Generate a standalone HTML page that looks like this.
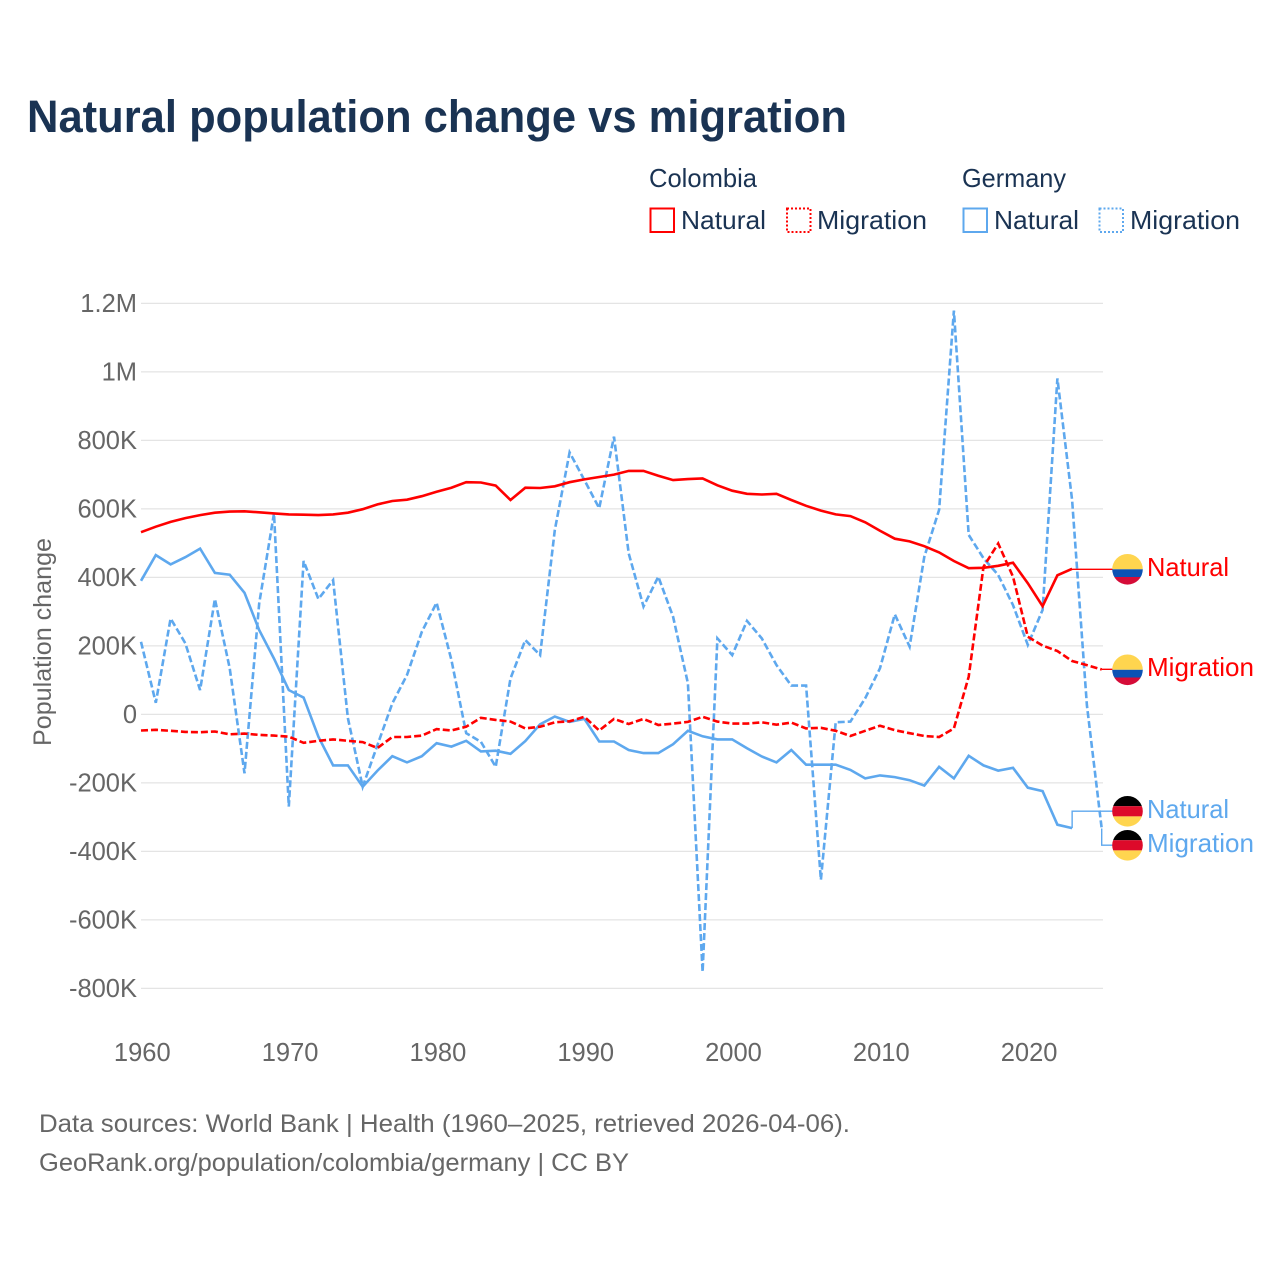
<!DOCTYPE html>
<html lang="en">
<head>
<meta charset="utf-8">
<title>Natural population change vs migration</title>
<style>
  html, body { margin: 0; padding: 0; background: #fff; }
  svg { display: block; font-family: "Liberation Sans", sans-serif; }
</style>
</head>
<body>
<svg id="chart" xmlns="http://www.w3.org/2000/svg" width="1280" height="1280" viewBox="0 0 1280 1280">
  <rect x="0" y="0" width="1280" height="1280" fill="#fff"/>
  <text x="27" y="132" font-size="45" font-weight="700" fill="#1a3353" textLength="820" lengthAdjust="spacingAndGlyphs">Natural population change vs migration</text>

  <g font-size="26" fill="#1a3353">
    <text x="649" y="187" textLength="108" lengthAdjust="spacingAndGlyphs">Colombia</text>
    <rect x="650.5" y="208.5" width="23.5" height="23.5" fill="none" stroke="#ff0000" stroke-width="2"/>
    <text x="681" y="229" textLength="85" lengthAdjust="spacingAndGlyphs">Natural</text>
    <rect x="787" y="208.5" width="23.5" height="23.5" fill="none" stroke="#ff0000" stroke-width="2" stroke-dasharray="2,2"/>
    <text x="817" y="229" textLength="110" lengthAdjust="spacingAndGlyphs">Migration</text>
    <text x="962" y="187" textLength="104" lengthAdjust="spacingAndGlyphs">Germany</text>
    <rect x="963.5" y="208.5" width="23.5" height="23.5" fill="none" stroke="#5ea8ee" stroke-width="2"/>
    <text x="994" y="229" textLength="85" lengthAdjust="spacingAndGlyphs">Natural</text>
    <rect x="1099.5" y="208.5" width="23.5" height="23.5" fill="none" stroke="#5ea8ee" stroke-width="2" stroke-dasharray="2,2"/>
    <text x="1130" y="229" textLength="110" lengthAdjust="spacingAndGlyphs">Migration</text>
  </g>

  <g id="grid"></g>
  <g id="yticks" font-size="25.5" fill="#666666" text-anchor="end"></g>
  <g id="xticks" font-size="25.5" fill="#666666" text-anchor="middle"></g>
  <text transform="translate(51 642) rotate(-90)" font-size="25" fill="#666666" text-anchor="middle" textLength="208" lengthAdjust="spacingAndGlyphs">Population change</text>

  <g id="series"></g>

  <g>
    <g>
      <clipPath id="clip-a"><circle cx="1127.5" cy="569.3" r="15.3"/></clipPath>
      <g clip-path="url(#clip-a)">
        <rect x="1112" y="554" width="31" height="15.3" fill="#ffd54f"/>
        <rect x="1112" y="569.3" width="31" height="7.7" fill="#0c52b4"/>
        <rect x="1112" y="577" width="31" height="8" fill="#d50c38"/>
      </g>
    </g>
    <text x="1147" y="576" font-size="26" fill="#ff0000" textLength="82" lengthAdjust="spacingAndGlyphs">Natural</text>
    <g>
      <clipPath id="clip-b"><circle cx="1127.5" cy="669.8" r="15.3"/></clipPath>
      <g clip-path="url(#clip-b)">
        <rect x="1112" y="654" width="31" height="15.8" fill="#ffd54f"/>
        <rect x="1112" y="669.8" width="31" height="7.7" fill="#0c52b4"/>
        <rect x="1112" y="677.5" width="31" height="8" fill="#d50c38"/>
      </g>
    </g>
    <text x="1147" y="676" font-size="26" fill="#ff0000" textLength="107" lengthAdjust="spacingAndGlyphs">Migration</text>
    <g>
      <clipPath id="clip-c"><circle cx="1127.5" cy="811.3" r="15.3"/></clipPath>
      <g clip-path="url(#clip-c)">
        <rect x="1112" y="796" width="31" height="10.2" fill="#000000"/>
        <rect x="1112" y="806.2" width="31" height="10.2" fill="#dd0a2a"/>
        <rect x="1112" y="816.4" width="31" height="10.4" fill="#ffd54f"/>
      </g>
    </g>
    <text x="1147" y="818" font-size="26" fill="#5ea8ee" textLength="82" lengthAdjust="spacingAndGlyphs">Natural</text>
    <g>
      <clipPath id="clip-d"><circle cx="1127.5" cy="845.3" r="15.3"/></clipPath>
      <g clip-path="url(#clip-d)">
        <rect x="1112" y="830" width="31" height="10.2" fill="#000000"/>
        <rect x="1112" y="840.2" width="31" height="10.2" fill="#dd0a2a"/>
        <rect x="1112" y="850.4" width="31" height="10.4" fill="#ffd54f"/>
      </g>
    </g>
    <text x="1147" y="852" font-size="26" fill="#5ea8ee" textLength="107" lengthAdjust="spacingAndGlyphs">Migration</text>
  </g>

  <g font-size="25" fill="#666666">
    <text x="39" y="1132" textLength="811" lengthAdjust="spacingAndGlyphs">Data sources: World Bank | Health (1960–2025, retrieved 2026-04-06).</text>
    <text x="39" y="1171" textLength="590" lengthAdjust="spacingAndGlyphs">GeoRank.org/population/colombia/germany | CC BY</text>
  </g>
</svg>

<script>
// Years and axis ticks
const startYear = 1960;
const xTickYears = [1960, 1970, 1980, 1990, 2000, 2010, 2020];
const yTickValues = [1200, 1000, 800, 600, 400, 200, 0, -200, -400, -600, -800];
const yTickLabels = ["1.2M", "1M", "800K", "600K", "400K", "200K", "0", "-200K", "-400K", "-600K", "-800K"];

// Series values in thousands, one per year starting 1960
const colombiaNatural = [
  532, 548, 562, 573, 582, 589, 592, 593, 590, 587,
  584, 583, 582, 584, 589, 599, 613, 623, 627, 637,
  650, 662, 678, 677, 668, 626, 662, 661, 666, 678,
  686, 693, 700, 711, 711, 697, 684, 687, 689, 669,
  653, 644, 642, 644, 626, 609, 595, 584, 579, 561,
  536, 513, 505, 491, 473, 448, 427, 428, 434, 443,
  383, 316, 406, 425
];
const colombiaMigration = [
  -47, -45, -48, -51, -52, -50, -58, -56, -60, -62,
  -65, -83, -77, -73, -77, -81, -98, -66, -66, -62,
  -43, -47, -36, -10, -16, -21, -41, -36, -23, -20,
  -7, -47, -13, -28, -13, -31, -27, -22, -7, -21,
  -27, -27, -23, -30, -24, -41, -39, -48, -63, -48,
  -33, -46, -55, -63, -66, -41, 110, 431, 499, 402,
  227, 201, 185, 156, 144, 131
];
const germanyNatural = [
  390, 465, 438, 459, 484, 413, 408, 355, 246, 163,
  71, 49, -65, -149, -149, -211, -164, -122, -140, -122,
  -84, -94, -77, -108, -106, -115, -78, -29, -6, -22,
  -13, -79, -79, -104, -113, -113, -87, -48, -64, -73,
  -73, -99, -123, -140, -104, -147, -147, -147, -162, -187,
  -178, -183, -192, -208, -153, -187, -121, -149, -164, -156,
  -214, -224, -322, -332
];
const germanyMigration = [
  212, 34, 280, 208, 71, 337, 135, -172, 324, 587,
  -269, 448, 337, 392, -11, -211, -89, 32, 115, 241,
  326, 159, -55, -80, -153, 105, 217, 173, 538, 765,
  684, 602, 811, 470, 315, 402, 285, 91, -752, 222,
  173, 273, 222, 144, 84, 84, -483, -23, -21, 47,
  135, 292, 198, 460, 597, 1179, 524, 456, 407, 319,
  203, 305, 981, 626, 27, -333
];

const SVGNS = "http://www.w3.org/2000/svg";
const RED = "#ff0000";
const BLUE = "#5ea8ee";

// Axis functions
function xScale(year) { return 141 + (year - startYear) * 14.78; }
function yScale(value) { return 714.4 - value * 0.3425; }

function make(tag, parentId) {
  const el = document.createElementNS(SVGNS, tag);
  document.getElementById(parentId).appendChild(el);
  return el;
}

yTickValues.forEach(function (value, i) {
  const line = make("line", "grid");
  
  
  line.setAttribute("x1", 141);
  line.setAttribute("x2", 1103);
  line.setAttribute("y1", yScale(value));
  line.setAttribute("y2", yScale(value));
  line.setAttribute("stroke", "#e4e4e4");
  line.setAttribute("stroke-width", "1.3");

  const label = make("text", "yticks");
  
  
  label.setAttribute("x", 137);
  label.setAttribute("y", yScale(value) + 8.5);
  label.textContent = yTickLabels[i];
});

xTickYears.forEach(function (year) {
  const label = make("text", "xticks");
  
  
  label.setAttribute("x", xScale(year) + 1.3);
  label.setAttribute("y", 1061);
  label.textContent = year;
});

function drawSeries(values, color, dashed, labelY, name) {
  const pts = values.map(function (v, i) {
    return xScale(startYear + i).toFixed(1) + "," + yScale(v).toFixed(1);
  });
  const line = make("polyline", "series");
  
  
  line.setAttribute("points", pts.join(" "));
  line.setAttribute("fill", "none");
  line.setAttribute("stroke", color);
  line.setAttribute("stroke-width", "2.6");
  line.setAttribute("stroke-linejoin", "miter");
  if (dashed) line.setAttribute("stroke-dasharray", "7,3");

  const lastX = xScale(startYear + values.length - 1);
  const lastY = yScale(values[values.length - 1]);
  const leader = make("path", "series");
  
  
  leader.setAttribute("d", "M" + lastX + " " + lastY + "V" + labelY + "H1113");
  leader.setAttribute("fill", "none");
  leader.setAttribute("stroke", color);
  leader.setAttribute("stroke-width", "1.4");
}

drawSeries(germanyMigration, BLUE, true, 845.2, "line-germany-migration");
drawSeries(germanyNatural, BLUE, false, 811.2, "line-germany-natural");
drawSeries(colombiaMigration, RED, true, 669.3, "line-colombia-migration");
drawSeries(colombiaNatural, RED, false, 569.3, "line-colombia-natural");
</script>
</body>
</html>
